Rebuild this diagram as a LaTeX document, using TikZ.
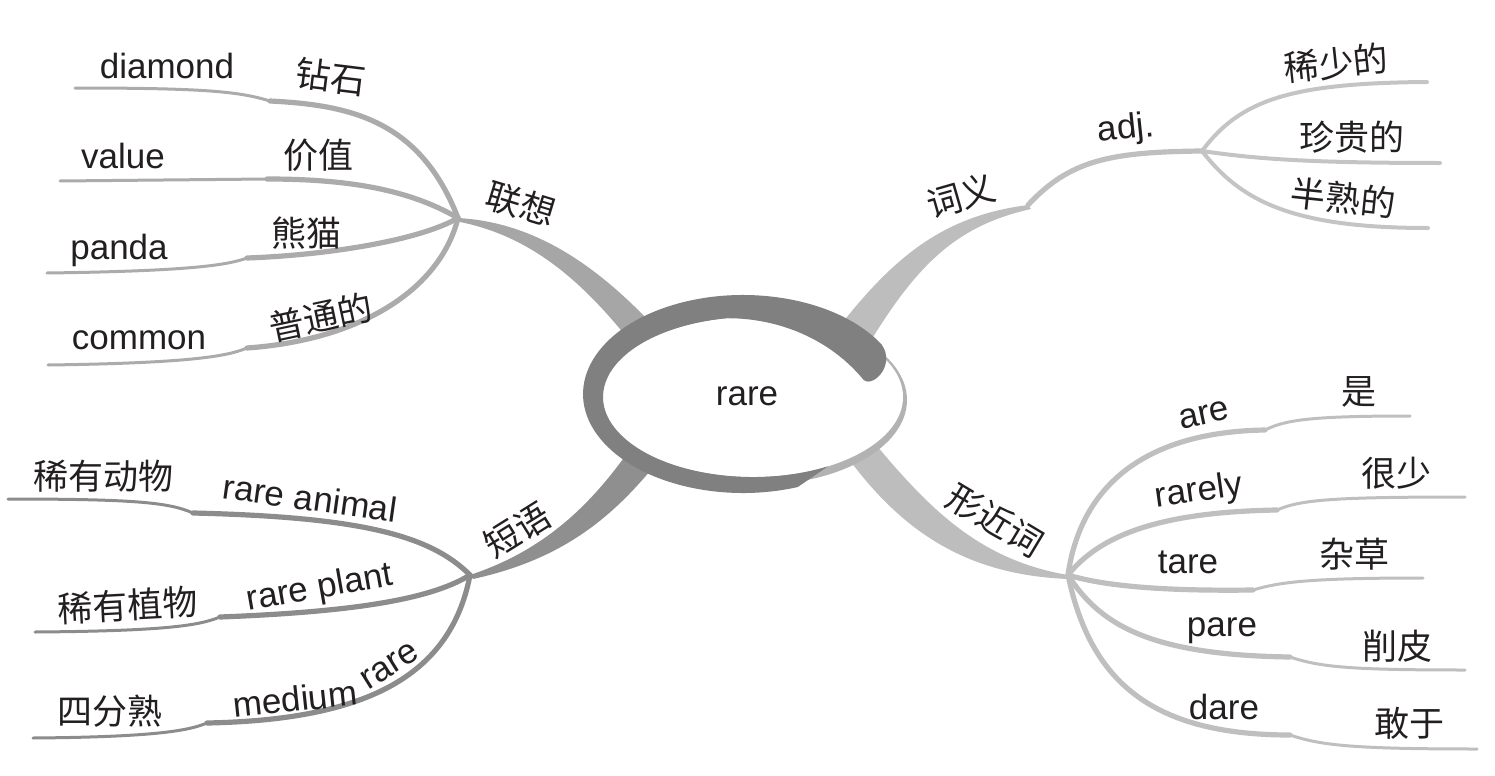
\documentclass[tikz,border=0pt]{standalone}
\usepackage{fontspec}
\setmainfont{Liberation Sans}
\newfontfamily\cjk{Noto Sans CJK SC}
\usetikzlibrary{calc}

\definecolor{ink}{HTML}{231F20}

\begin{document}
\begin{tikzpicture}[x=0.5pt,y=-0.5pt,
  en/.style={font=\fontsize{17.5}{21}\selectfont,text=ink,inner sep=0pt},
  zh/.style={font=\cjk\fontsize{17.5}{21}\selectfont,text=ink,inner sep=0pt},
  hub/.style={line width=2.6pt,line cap=round},
  twig/.style={line width=1.5pt,line cap=round}]

\useasboundingbox (0,0) rectangle (1495,776);

\foreach \n/\x/\y in {hubL/458/218, hubP/470/575, hubA/1202/151, hubX/1068/575, tipM/1028/205,
  dmK/270/101, dmE/75/88, vaK/267/179, vaE/60/181, paK/247/258, paE/47/273, coK/247/348, coE/48/365,
  anK/193/513, anE/8/499, plK/220/617, plE/35/632, meK/207/723, meE/33/738,
  a1E/1427/82, a2E/1440/163, a3E/1428/228,
  arK/1265/430, arE/1410/416, ryK/1277/510, ryE/1465/497, taK/1253/590, taE/1423/578,
  peK/1290/657, peE/1465/670, daK/1290/735, daE/1477/749}
  \coordinate (\n) at (\x,\y);

\fill[black!35] (hubL) .. controls (530,222) and (590,260) .. (648,320) -- (625,335) .. controls (580,280) and (530,236) .. ($(hubL)+(2,4)$) -- cycle;
\fill[black!44] (hubP) .. controls (530,555) and (580,520) .. (628,452) -- (655,465) .. controls (610,520) and (560,560) .. ($(hubP)+(3,4)$) -- cycle;
\fill[black!26] (843,322) .. controls (900,250) and (950,215) .. (tipM) -- ($(tipM)+(3,4)$) .. controls (960,225) and (920,260) .. (870,342) -- cycle;
\fill[black!26] (872,440) .. controls (930,510) and (980,560) .. (hubX) -- ($(hubX)+(0,4)$) .. controls (970,575) and (905,535) .. (848,458) -- cycle;

\draw[hub,black!33] (hubL) .. controls (420,120) and (350,105) .. (dmK);
\draw[twig,black!33] (dmK) .. controls (240,92) and (210,88) .. (dmE);
\draw[hub,black!33] (hubL) .. controls (410,190) and (350,179) .. (vaK);
\draw[twig,black!33] (vaK) -- (vaE);
\draw[hub,black!33] (hubL) .. controls (420,240) and (330,255) .. (paK);
\draw[twig,black!33] (paK) .. controls (230,264) and (200,271) .. (paE);
\draw[hub,black!33] (hubL) .. controls (440,290) and (360,340) .. (coK);
\draw[twig,black!33] (coK) .. controls (230,355) and (200,363) .. (coE);

\draw[hub,black!45] (hubP) .. controls (430,535) and (360,517) .. (anK);
\draw[twig,black!45] (anK) .. controls (170,503) and (140,499) .. (anE);
\draw[hub,black!45] (hubP) .. controls (430,600) and (350,612) .. (plK);
\draw[twig,black!45] (plK) .. controls (200,625) and (170,631) .. (plE);
\draw[hub,black!45] (hubP) .. controls (450,680) and (360,720) .. (meK);
\draw[twig,black!45] (meK) .. controls (190,730) and (160,737) .. (meE);

\draw[hub,black!25] (tipM) .. controls (1070,160) and (1110,152) .. (hubA);
\draw[line width=2pt,line cap=round,black!23] (hubA) .. controls (1240,100) and (1290,83) .. (a1E);
\draw[line width=2pt,line cap=round,black!23] (hubA) .. controls (1250,158) and (1300,163) .. (a2E);
\draw[line width=2pt,line cap=round,black!23] (hubA) .. controls (1240,200) and (1290,228) .. (a3E);

\draw[hub,black!25] (hubX) .. controls (1080,490) and (1140,432) .. (arK);
\draw[twig,black!25] (arK) .. controls (1285,420) and (1310,416) .. (arE);
\draw[hub,black!25] (hubX) .. controls (1100,535) and (1160,512) .. (ryK);
\draw[twig,black!25] (ryK) .. controls (1300,500) and (1330,497) .. (ryE);
\draw[hub,black!25] (hubX) .. controls (1110,588) and (1180,591) .. (taK);
\draw[twig,black!25] (taK) .. controls (1280,582) and (1310,578) .. (taE);
\draw[hub,black!25] (hubX) .. controls (1100,625) and (1150,655) .. (peK);
\draw[twig,black!25] (peK) .. controls (1320,667) and (1350,670) .. (peE);
\draw[hub,black!25] (hubX) .. controls (1090,680) and (1150,735) .. (daK);
\draw[twig,black!25] (daK) .. controls (1320,745) and (1350,749) .. (daE);

\fill[black!30] (756,400) ellipse [x radius=151, y radius=85];
\fill[white] (753,397) ellipse [x radius=150, y radius=80];
\fill[black!50] (881.6,344.5) arc[start angle=-30, end angle=-290, x radius=160, y radius=99] -- (828,466.3)
  arc[start angle=60, end angle=260, x radius=150, y radius=80] .. controls (780,318) and (830,340) .. (862,378)
  .. controls (870,391) and (897,366) .. cycle;
\node[en] (rare) at (747,396) {rare};

\node[zh,rotate=-17] (lianxiang) at (521,204) {联想};
\node[en] (diamond) at (167,66) {diamond};
\node[zh,rotate=-7] (zuanshi) at (331,77) {钻石};
\node[en] (value) at (123,156) {value};
\node[zh] (jiazhi) at (318,155) {价值};
\node[en] (panda) at (119,250) {panda};
\node[zh] (xiongmao) at (306,233) {熊猫};
\node[en] (common) at (139,340) {common};
\node[zh,rotate=12] (putong) at (321,317) {普通的};

\node[zh,rotate=32] (duanyu) at (517,530) {短语};
\node[zh] (xydw) at (103,476) {稀有动物};
\node[en,rotate=-8] (animal) at (310,498) {rare animal};
\node[zh,rotate=3] (xyzw) at (128,605) {稀有植物};
\node[en,rotate=10] (plant) at (320,589) {rare plant};
\node[zh] (sifenshu) at (110,711) {四分熟};
\node[en,rotate=6] (medium) at (295,699) {medium};
\node[en,rotate=32] (mrare) at (390,666) {rare};

\node[zh,rotate=16] (ciyi) at (961,196) {词义};
\node[en,rotate=6] (adj) at (1126,130) {adj.};
\node[zh,rotate=6] (xishao) at (1336,63) {稀少的};
\node[zh] (zhengui) at (1352,137) {珍贵的};
\node[zh,rotate=-6] (banshu) at (1343,198) {半熟的};

\node[zh,rotate=-31] (xingjin) at (995,520) {形近词};
\node[en,rotate=12] (are) at (1204,415) {are};
\node[zh] (shi) at (1359,392) {是};
\node[en,rotate=8] (rarely) at (1199,492) {rarely};
\node[zh] (henshao) at (1396,473) {很少};
\node[en] (tare) at (1188,562) {tare};
\node[zh] (zacao) at (1354,554) {杂草};
\node[en] (pare) at (1222,631) {pare};
\node[zh] (xuepi) at (1397,646) {削皮};
\node[en] (dare) at (1224,707) {dare};
\node[zh] (ganyu) at (1409,723) {敢于};

\end{tikzpicture}
\end{document}
